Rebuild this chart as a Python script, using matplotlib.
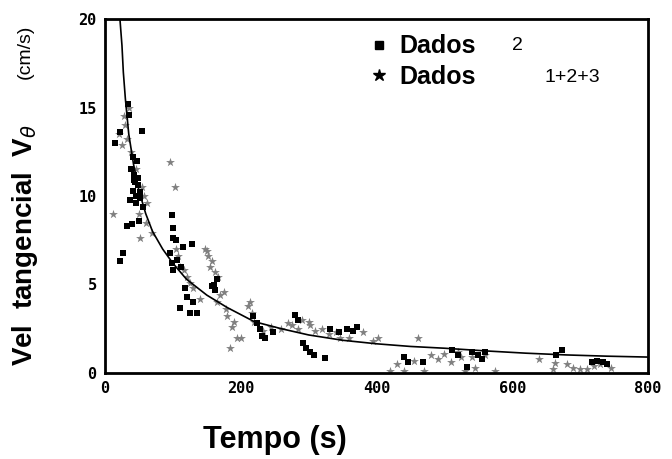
import numpy as np
import matplotlib.pyplot as plt
from matplotlib.lines import Line2D

# Dados 2 (black squares)
d2_t = [34, 54, 15, 22, 41, 47, 49, 41, 52, 56, 37, 44, 99, 27, 22, 40, 100, 96, 106, 100,
        115, 128, 121, 110, 125, 135, 162, 224, 231, 247, 280, 292, 302, 324, 331, 356, 371,
        446, 468, 511, 533, 560, 549, 673, 717, 733, 45, 38, 100, 160,
        35, 43, 48, 52, 46, 42, 105, 112, 98, 118, 130, 165, 158, 218, 228, 236, 284, 296,
        308, 345, 365, 440, 520, 540, 555, 665, 725, 740, 33, 50]
d2_v = [15.2, 13.7, 13.0, 13.6, 12.2, 12.0, 11.0, 10.3, 9.9, 9.4, 9.8, 10.8, 8.9, 6.8, 6.3, 8.4, 8.2, 6.8, 6.4, 5.8,
        7.1, 7.3, 4.3, 3.7, 3.4, 3.4, 4.7, 2.8, 2.1, 2.3, 3.3, 1.7, 1.2, 0.85, 2.5, 2.5, 2.6,
        0.6, 0.6, 1.3, 0.35, 1.2, 1.0, 1.3, 0.6, 0.6, 10.0, 11.5, 7.6, 5.0,
        14.6, 11.2, 10.6, 10.2, 9.6, 10.9, 7.5, 6.0, 6.2, 4.8, 4.0, 5.3, 4.9, 3.2, 2.5, 2.0, 3.0, 1.4,
        1.0, 2.3, 2.4, 0.9, 1.0, 1.2, 0.8, 1.0, 0.7, 0.5, 8.3, 8.6]

# Dados 1+2+3 (gray asterisks)
d123_t = [30, 25, 45, 55, 60, 96, 103, 12, 52, 69, 121, 125, 152, 155, 166, 165, 180, 187, 184, 194,
          214, 216, 302, 346, 402, 461, 300, 320, 480, 500, 520, 540, 663, 710, 420, 440, 470, 530,
          700, 720, 38, 50, 110, 140, 200, 260, 270, 290, 340, 380, 490, 560, 680, 640, 150, 175,
          28, 33, 57, 62, 104, 108, 116, 130, 147, 158, 162, 170, 178, 190, 210, 220, 233, 245,
          275, 285, 310, 330, 360, 395, 430, 455, 510, 525, 545, 575, 660, 690, 730, 745, 20, 36]
d123_v = [14.0, 12.9, 11.5, 10.5, 8.5, 11.9, 10.5, 9.0, 7.6, 7.9, 5.4, 5.1, 6.6, 6.0, 5.4, 4.0, 3.2, 2.6, 1.4, 2.0,
          4.0, 3.4, 2.7, 2.0, 2.0, 2.0, 2.9, 2.5, 1.0, 1.1, 1.2, 0.9, 0.55, 0.2, 0.1, 0.1, 0.1, 0.1,
          0.2, 0.4, 12.5, 9.0, 6.0, 4.2, 2.0, 2.5, 2.8, 3.0, 2.3, 2.3, 0.8, 1.0, 0.5, 0.8, 6.9, 4.6,
          14.5, 13.2, 10.0, 9.6, 7.0, 6.6, 5.8, 4.8, 7.0, 6.3, 5.7, 4.4, 3.6, 2.9, 3.8, 2.9, 2.4, 2.6,
          2.7, 2.5, 2.4, 2.2, 2.0, 1.8, 0.5, 0.7, 0.6, 0.9, 0.3, 0.1, 0.2, 0.3, 0.5, 0.3, 13.5, 15.0]

# ajuste
fit_t = [22, 25, 27, 30, 35, 42, 50, 60, 70, 85, 100, 120, 150, 180, 220, 260, 300, 350, 400, 450,
         500, 560, 620, 680, 740, 800]
fit_v = [20, 18.5, 17, 15.5, 13.5, 11.8, 10.3, 9.0, 8.0, 7.0, 6.2, 5.3, 4.4, 3.7, 2.9, 2.5, 2.15, 1.85, 1.65, 1.5,
         1.4, 1.25, 1.12, 1.02, 0.95, 0.9]

fig = plt.figure(figsize=(6.72, 4.59), dpi=100)
ax = fig.add_axes([105 / 672, 86 / 459, 543 / 672, 354 / 459])

ax.plot(fit_t, fit_v, color='black', lw=1.2, zorder=3)
ax.scatter(d123_t, d123_v, marker='*', s=45, color='#808080', linewidths=0, zorder=2)
ax.scatter(d2_t, d2_v, marker='s', s=24, color='black', linewidths=0, zorder=4)

ax.set_xlim(0, 800)
ax.set_ylim(0, 20)
ax.set_xticks([0, 200, 400, 600, 800])
ax.set_yticks([0, 5, 10, 15, 20])
ax.tick_params(length=0, labelsize=11, pad=6)
for lab in ax.get_xticklabels() + ax.get_yticklabels():
    lab.set_fontweight('bold')
    lab.set_family('DejaVu Sans Mono')
for s in ax.spines.values():
    s.set_linewidth(2)

fig.text(275 / 672, 1 - 440 / 459, 'Tempo (s)', ha='center', va='center',
         fontsize=22, fontweight='bold', family='Liberation Sans')
fig.text(25 / 672, 1 - 245 / 459, r'Vel  tangencial  V$_\theta$', rotation=90, ha='center',
         va='center', fontsize=20, fontweight='bold', family='Liberation Sans')
fig.text(25 / 672, 1 - 52 / 459, '(cm/s)', rotation=90, ha='center', va='center',
         fontsize=14, family='Liberation Sans')

handles = [Line2D([], [], marker='s', ls='', color='black', ms=6),
           Line2D([], [], marker='*', ls='', color='black', ms=9)]
ax.legend(handles, ['Dados', 'Dados'], loc='upper left', bbox_to_anchor=(0.44, 1.02),
          frameon=False, prop={'family': 'Liberation Sans', 'weight': 'bold', 'size': 18},
          handletextpad=0.3, labelspacing=0.25, handlelength=1.0)
ax.text(0.75, 0.926, '2', transform=ax.transAxes, fontsize=14, va='center', family='Liberation Sans')
ax.text(0.81, 0.836, '1+2+3', transform=ax.transAxes, fontsize=14, va='center', family='Liberation Sans')

fig.savefig('out.png', dpi=100)
